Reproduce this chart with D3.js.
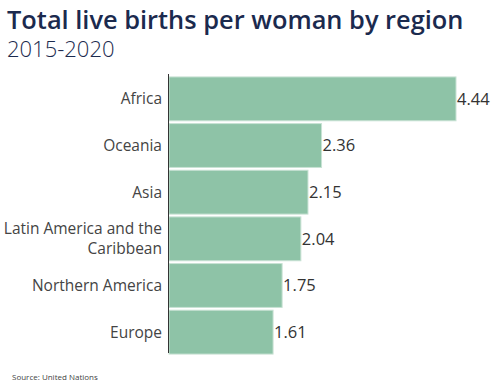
<!DOCTYPE html>
<html>
<head>
<meta charset="utf-8">
<script src="https://cdn.jsdelivr.net/npm/d3@7"></script>
<style>
  body { margin: 0; background: #fff; font-family: "Open Sans", sans-serif; }
</style>
</head>
<body>
<div id="chart"></div>
<script>
const regions = ["Africa", "Oceania", "Asia", "Latin America and the Caribbean", "Northern America", "Europe"];
const labelLines = [["Africa"], ["Oceania"], ["Asia"], ["Latin America and the", "Caribbean"], ["Northern America"], ["Europe"]];
const births = [4.44, 2.36, 2.15, 2.04, 1.75, 1.61];

const w = 504;
const h = 388;
const plotLeft = 169;
const plotTop = 76;
const plotBottom = 355;

const svg = d3.select("#chart")
  .append("svg")
  .attr("width", w)
  .attr("height", h);

svg.append("text")
  .attr("x", 7)
  .attr("y", 29)
  .attr("fill", "#1b2a4e")
  .style("font-size", "25.4px")
  .style("font-weight", 600)
  .text("Total live births per woman by region");

svg.append("text")
  .attr("x", 7)
  .attr("y", 57)
  .attr("fill", "#1b2a4e")
  .style("font-size", "22px")
  .style("font-weight", 300)
  .text("2015-2020");

const xScale = d3.scaleLinear()
  .domain([0, 4.44])
  .range([plotLeft, 456]);

const yScale = d3.scaleBand()
  .domain(regions)
  .range([plotTop, plotBottom])
  .paddingInner(0.06)
  .paddingOuter(0.02);

svg.selectAll("rect.bar")
  .data(births)
  .enter()
  .append("rect")
  .attr("class", "bar")
  .attr("x", plotLeft)
  .attr("y", (d, i) => yScale(regions[i]))
  .attr("width", (d) => xScale(d) - plotLeft)
  .attr("height", yScale.bandwidth())
  .attr("fill", "#8ec3a7")
  .attr("stroke", "#c8e2d4")
  .attr("stroke-width", 1);

svg.selectAll("text.value")
  .data(births)
  .enter()
  .append("text")
  .attr("class", "value")
  .attr("x", (d) => xScale(d) + 1)
  .attr("y", (d, i) => yScale(regions[i]) + yScale.bandwidth() / 2)
  .attr("dy", "0.35em")
  .attr("fill", "#333")
  .style("font-size", "16.5px")
  .text((d) => d.toFixed(2));

const labels = svg.selectAll("text.label")
  .data(labelLines)
  .enter()
  .append("text")
  .attr("class", "label")
  .attr("text-anchor", "end")
  .attr("fill", "#444")
  .style("font-size", "15.5px")
  .attr("transform", (d, i) => `translate(162, ${yScale(regions[i]) + yScale.bandwidth() / 2})`);

labels.selectAll("tspan")
  .data((d) => d.map((t, j) => ({ t: t, j: j, n: d.length })))
  .enter()
  .append("tspan")
  .attr("x", 0)
  .attr("y", (d) => (d.j - (d.n - 1) / 2) * 20)
  .attr("dy", "0.35em")
  .text((d) => d.t);

svg.append("line")
  .attr("x1", plotLeft - 0.5)
  .attr("x2", plotLeft - 0.5)
  .attr("y1", 74)
  .attr("y2", 353)
  .attr("stroke", "#333")
  .attr("stroke-width", 1);

svg.append("text")
  .attr("x", 12)
  .attr("y", 380)
  .attr("fill", "#444")
  .style("font-size", "8px")
  .text("Source: United Nations");
</script>
</body>
</html>
